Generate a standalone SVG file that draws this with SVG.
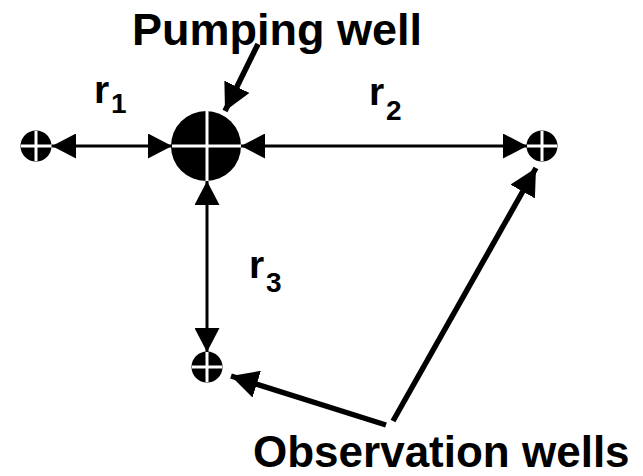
<svg xmlns="http://www.w3.org/2000/svg" width="643" height="476" viewBox="0 0 643 476">
<style>
.lbl{font-family:"Liberation Sans",Arial,sans-serif;font-weight:bold;fill:#000}
.big{font-size:45px}
.obs{font-size:44px}
.r{font-size:39px}
.sub{font-size:28px}
.well{fill:#000}
.cross{stroke:#fff;stroke-width:3;fill:none}
.conn{stroke:#000;stroke-width:3;fill:none}
.thick{stroke:#000;stroke-width:5.5;fill:none}
</style>
<defs>
<marker id="ah" viewBox="0 0 24 25" refX="24" refY="12.5" markerWidth="24" markerHeight="25" markerUnits="userSpaceOnUse" orient="auto-start-reverse">
<path d="M0,0 L24,12.5 L0,25 z" fill="#000"/>
</marker>
<marker id="ahb" viewBox="0 0 27 28" refX="27" refY="14" markerWidth="27" markerHeight="28" markerUnits="userSpaceOnUse" orient="auto">
<path d="M0,0 L27,14 L0,28 z" fill="#000"/>
</marker>
</defs>
<g id="connectors">
<line class="conn" x1="52" y1="146" x2="172" y2="146" marker-start="url(#ah)" marker-end="url(#ah)"/>
<line class="conn" x1="241" y1="146" x2="527" y2="146" marker-start="url(#ah)" marker-end="url(#ah)"/>
<line class="conn" x1="207" y1="181" x2="207" y2="352" marker-start="url(#ah)" marker-end="url(#ah)"/>
<line class="thick" x1="258" y1="44" x2="225" y2="111" marker-end="url(#ahb)"/>
<line class="thick" x1="393" y1="421" x2="536" y2="168" marker-end="url(#ahb)"/>
<line class="thick" x1="386" y1="425" x2="231" y2="376" marker-end="url(#ahb)"/>
</g>
<g id="pumping-well">
<circle class="well" cx="206" cy="146" r="35"/>
<path class="cross" d="M172,146 H241 M207,111 V181"/>
</g>
<g id="obs-well-1">
<circle class="well" cx="36" cy="146" r="15.5"/>
<path class="cross" d="M21,146 H51 M36,131 V161"/>
</g>
<g id="obs-well-2">
<circle class="well" cx="542" cy="146" r="15.5"/>
<path class="cross" d="M527,146 H557 M542,131 V161"/>
</g>
<g id="obs-well-3">
<circle class="well" cx="207" cy="367" r="15.5"/>
<path class="cross" d="M192,367 H222 M207,352 V382"/>
</g>
<g id="labels">
<text class="lbl big" x="132" y="45">Pumping well</text>
<text class="lbl obs" x="253" y="467">Observation wells</text>
<text class="lbl r" x="94" y="103">r<tspan class="sub" x="111" y="113">1</tspan></text>
<text class="lbl r" x="369" y="105">r<tspan class="sub" x="386" y="120">2</tspan></text>
<text class="lbl r" x="249" y="278">r<tspan class="sub" x="266" y="292">3</tspan></text>
</g>
</svg>
